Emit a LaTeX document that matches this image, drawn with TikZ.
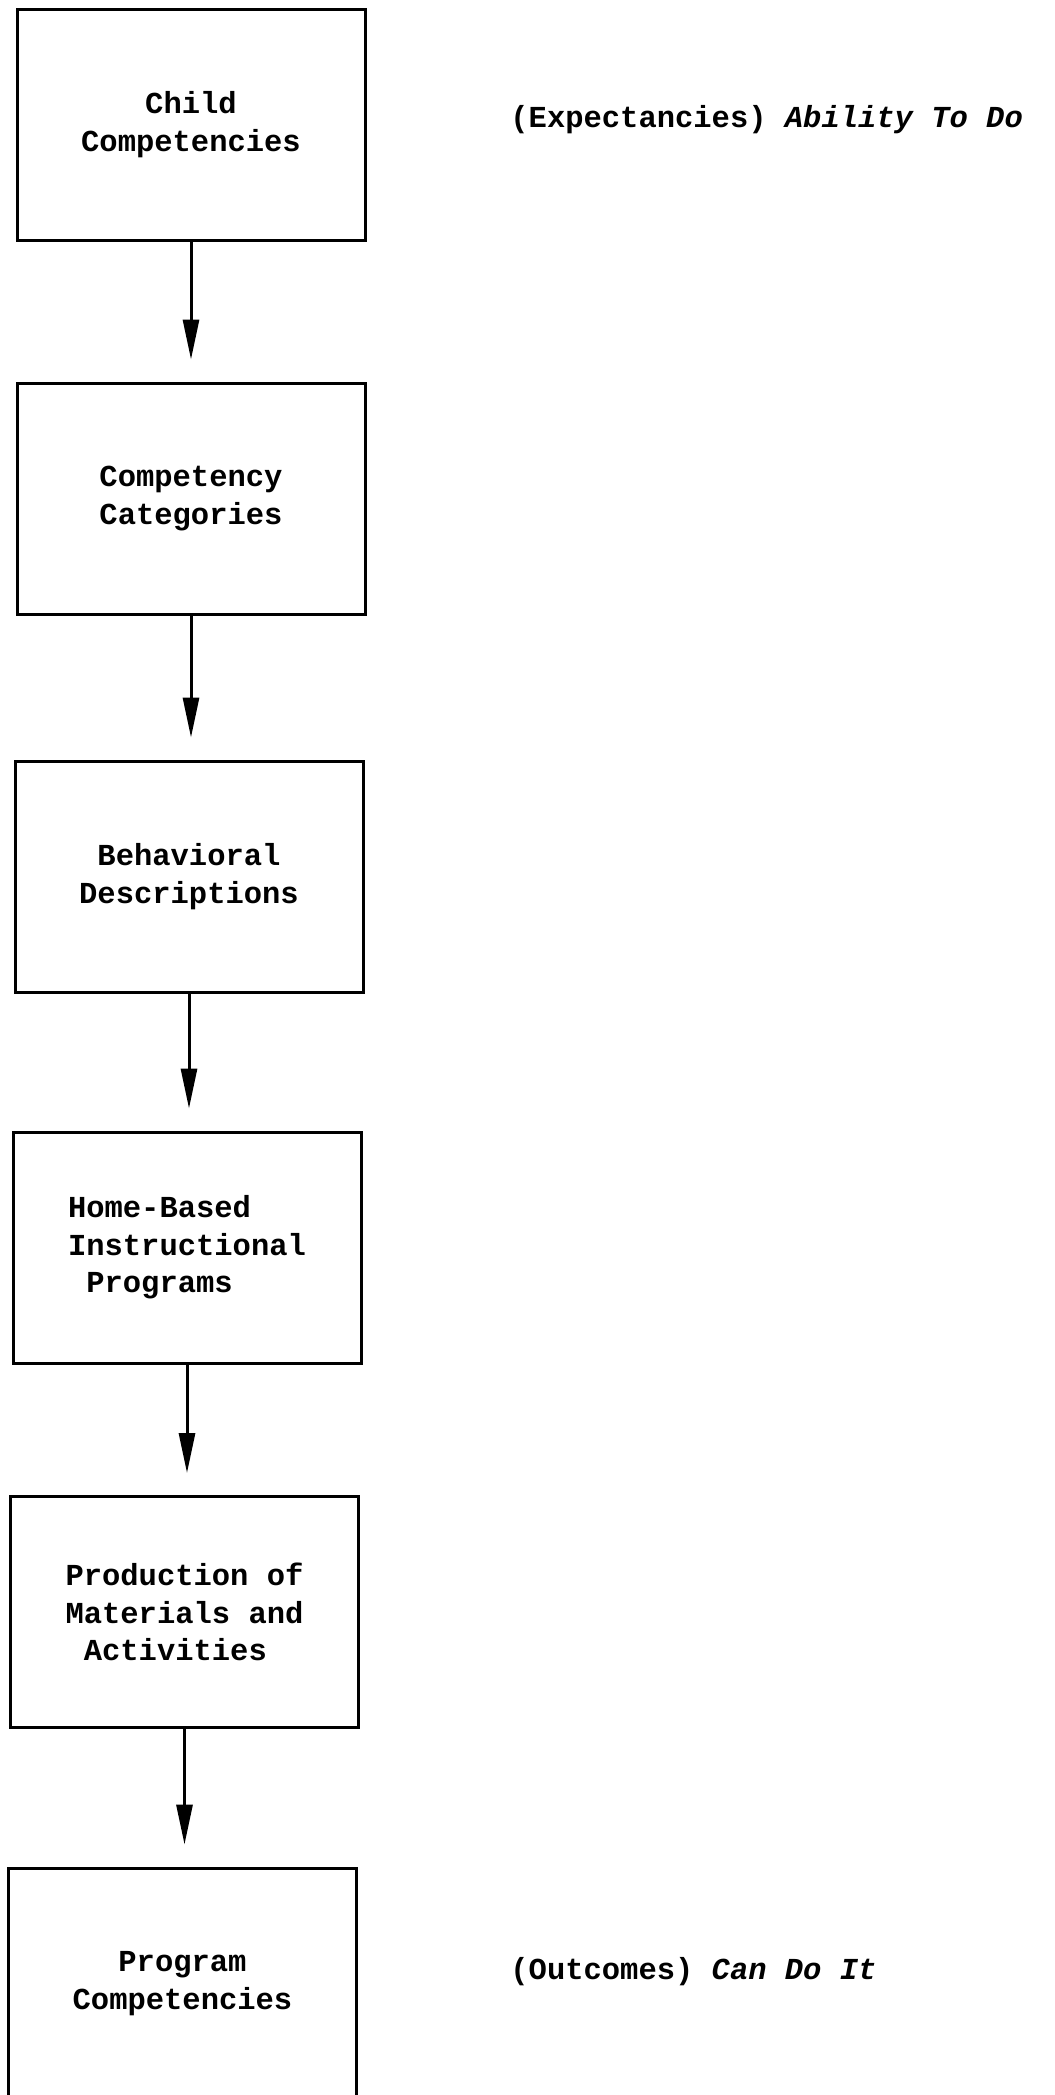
\documentclass[tikz,border=0pt]{standalone}
\usepackage{fontspec}
\newfontfamily\tw{Liberation Mono}
\usetikzlibrary{arrows.meta}
\begin{document}
\begin{tikzpicture}[x=0.5pt,y=-0.5pt,
  box/.style={draw, line width=1.5pt, minimum width=174pt, minimum height=115.5pt,
    inner sep=0pt, font={\tw\bfseries\fontsize{15.25pt}{18.75pt}\selectfont}, align=center},
  boxl/.style={box, align=left},
  arr/.style={-{Triangle[length=20pt,width=8pt]}, line width=1.5pt, shorten >=11pt},
  side/.style={anchor=west, inner sep=0pt, font={\tw\bfseries\fontsize{15.25pt}{18.75pt}\selectfont}}]
\clip (0,0) rectangle (1055,2095);
\fill[white] (0,0) rectangle (1055,2095);
\node[box] (b1) at (191,124.5) {Child\\Competencies};
\node[box] (b2) at (191,498.5) {Competency\\Categories};
\node[box] (b3) at (189,876.5) {Behavioral\\Descriptions};
\node[boxl] (b4) at (187,1247.5) {Home-Based\\Instructional\\\ Programs};
\node[boxl] (b5) at (184.5,1612) {Production of\\Materials and\\\ Activities};
\node[box] (b6) at (182.5,1983.5) {Program\\Competencies};
\node[side] (t1) at (510,120) {(Expectancies) \textit{Ability To Do}};
\node[side] (t2) at (510,1972) {(Outcomes) \textit{Can Do It}};
\draw[arr] (b1.south) -- (b1.south |- b2.north);
\draw[arr] (b2.south) -- (b2.south |- b3.north);
\draw[arr] (b3.south) -- (b3.south |- b4.north);
\draw[arr] (b4.south) -- (b4.south |- b5.north);
\draw[arr] (b5.south) -- (b5.south |- b6.north);
\end{tikzpicture}
\end{document}
